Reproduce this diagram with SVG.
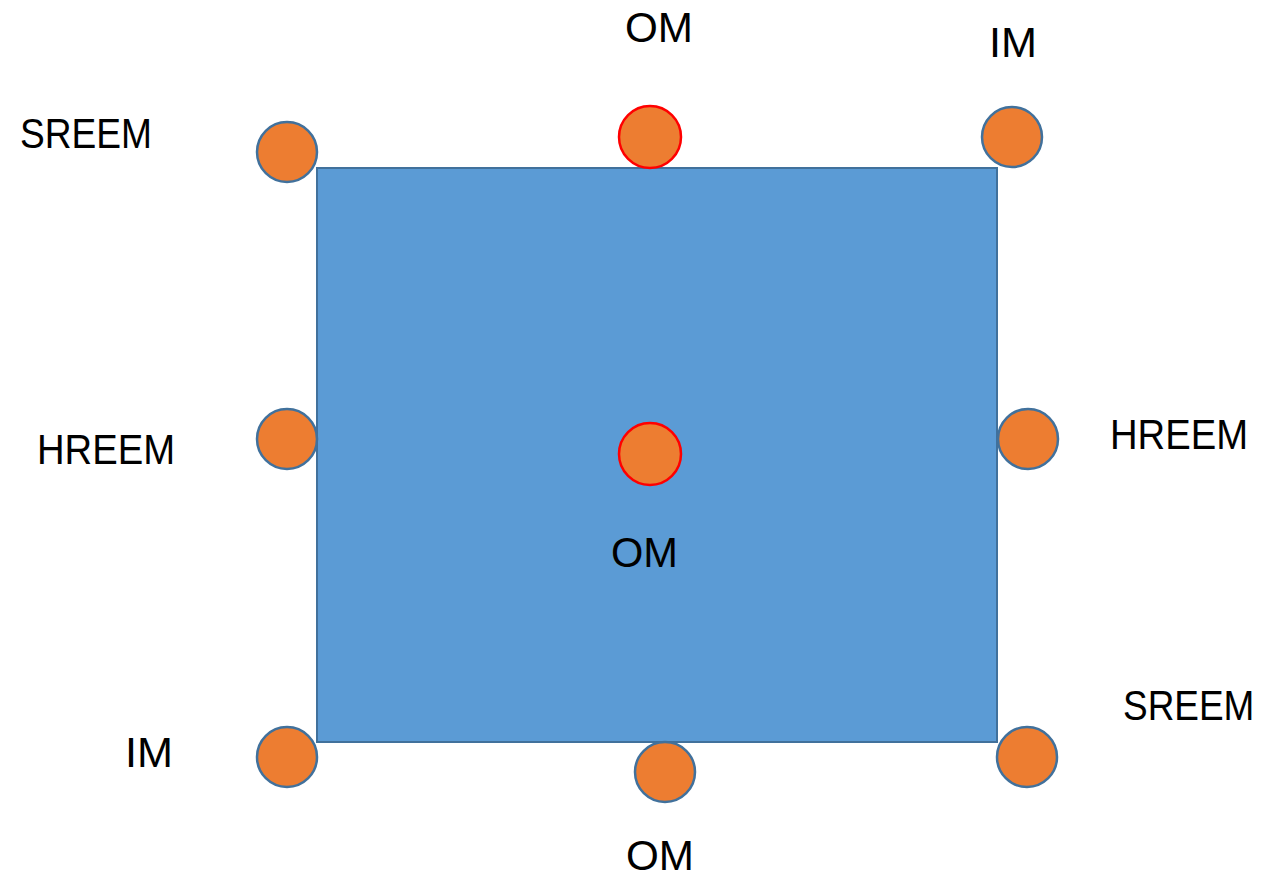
<svg xmlns="http://www.w3.org/2000/svg" width="1263" height="878" viewBox="0 0 1263 878">
<style>
.lbl{font-family:"Liberation Sans",Arial,sans-serif;font-size:42px;fill:#000}
.dot{fill:#ED7D31;stroke:#41719C;stroke-width:2.5}
.red{stroke:#FF0000}
</style>
<rect width="1263" height="878" fill="#fff"/>
<g id="square"><rect x="317" y="168" width="680" height="574" fill="#5B9BD5" stroke="#41719C" stroke-width="2"/></g>
<g id="connectors"></g>
<g id="sreem-tl"><circle class="dot" cx="287" cy="152" r="30"/><text class="lbl" x="20" y="148" textLength="132" lengthAdjust="spacingAndGlyphs">SREEM</text></g>
<g id="om-top"><circle class="dot red" cx="650" cy="137" r="31"/><text class="lbl" x="625" y="42" textLength="68" lengthAdjust="spacingAndGlyphs">OM</text></g>
<g id="im-tr"><circle class="dot" cx="1012" cy="137" r="30"/><text class="lbl" x="989" y="57" textLength="48" lengthAdjust="spacingAndGlyphs">IM</text></g>
<g id="hreem-l"><circle class="dot" cx="287" cy="439" r="30"/><text class="lbl" x="37" y="464" textLength="138" lengthAdjust="spacingAndGlyphs">HREEM</text></g>
<g id="om-center"><circle class="dot red" cx="650" cy="454" r="31"/><text class="lbl" x="611" y="567" textLength="67" lengthAdjust="spacingAndGlyphs">OM</text></g>
<g id="hreem-r"><circle class="dot" cx="1028" cy="439" r="30"/><text class="lbl" x="1110" y="449" textLength="138" lengthAdjust="spacingAndGlyphs">HREEM</text></g>
<g id="im-bl"><circle class="dot" cx="287" cy="757" r="30"/><text class="lbl" x="125" y="767" textLength="48" lengthAdjust="spacingAndGlyphs">IM</text></g>
<g id="om-bottom"><circle class="dot" cx="665" cy="772" r="30"/><text class="lbl" x="626" y="870" textLength="68" lengthAdjust="spacingAndGlyphs">OM</text></g>
<g id="sreem-br"><circle class="dot" cx="1027" cy="757" r="30"/><text class="lbl" transform="translate(1123,720) scale(0.88,1)" x="0" y="0">SREEM</text></g>
</svg>
